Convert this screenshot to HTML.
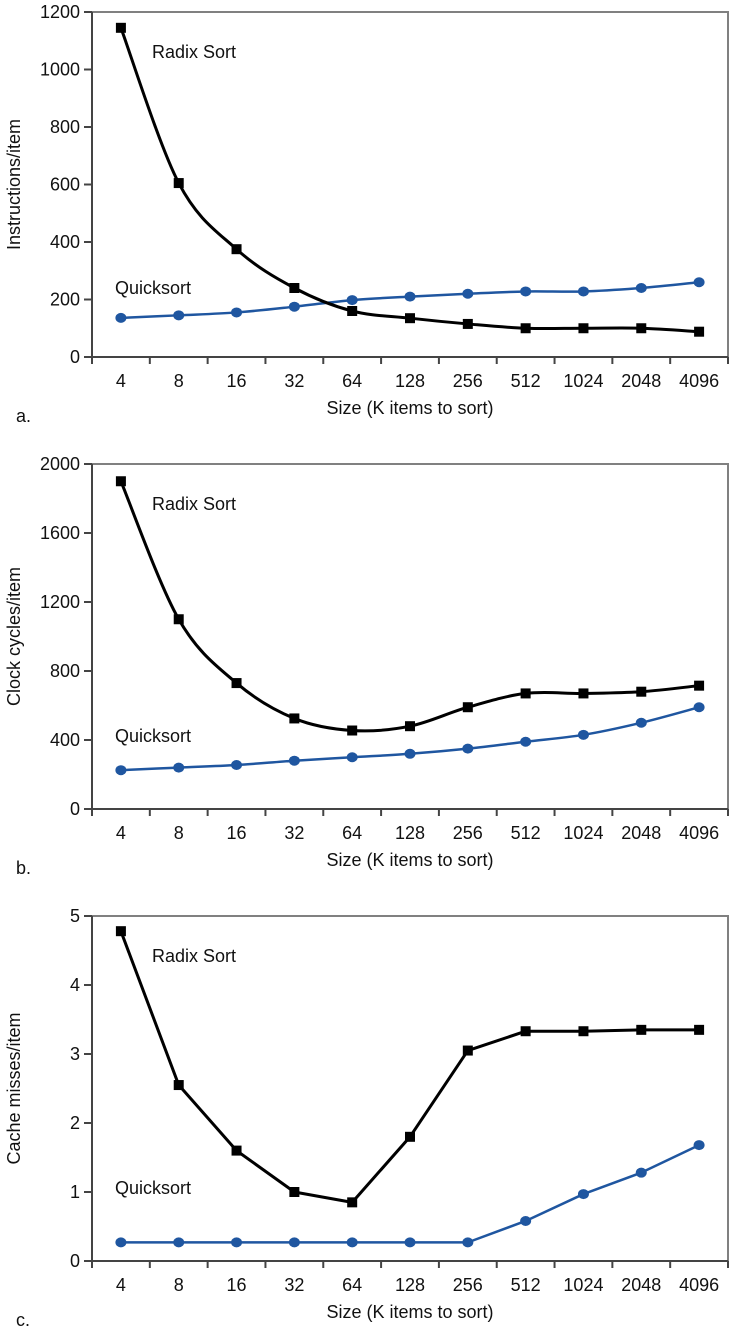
<!DOCTYPE html>
<html><head><meta charset="utf-8"><style>
html,body{margin:0;padding:0;background:#fff;}
svg{display:block;font-family:"Liberation Sans",Arial,sans-serif;}
</style></head><body>
<svg id="svg" width="730" height="1332" viewBox="0 0 730 1332" xmlns="http://www.w3.org/2000/svg"></svg>
<script>
const categories = ["4","8","16","32","64","128","256","512","1024","2048","4096"];
const radixInstr = [1145,605,375,240,160,135,115,100,100,100,88];
const quickInstr = [136,145,155,175,198,210,220,228,228,240,260];
const radixClock = [1900,1100,730,525,455,480,590,670,670,680,715];
const quickClock = [225,240,255,280,300,320,350,390,430,500,590];
const radixMiss = [4.78,2.55,1.6,1.0,0.85,1.8,3.05,3.33,3.33,3.35,3.35];
const quickMiss = [0.27,0.27,0.27,0.27,0.27,0.27,0.27,0.58,0.97,1.28,1.68];
const ticksA = [0,200,400,600,800,1000,1200];
const ticksB = [0,400,800,1200,1600,2000];
const ticksC = [0,1,2,3,4,5];

const NS="http://www.w3.org/2000/svg";
const svg=document.getElementById('svg');
function mk(tag,attrs,parent){const e=document.createElementNS(NS,tag);for(const k in attrs)e.setAttribute(k,attrs[k]);(parent||svg).appendChild(e);return e;}

function smoothPath(pts){
  let d="M"+pts[0][0]+","+pts[0][1];
  for(let i=0;i<pts.length-1;i++){
    const p0=pts[i-1]||pts[i],p1=pts[i],p2=pts[i+1],p3=pts[i+2]||p2;
    const c1x=p1[0]+(p2[0]-p0[0])/6,c1y=p1[1]+(p2[1]-p0[1])/6;
    const c2x=p2[0]-(p3[0]-p1[0])/6,c2y=p2[1]-(p3[1]-p1[1])/6;
    d+=" C"+c1x+","+c1y+" "+c2x+","+c2y+" "+p2[0]+","+p2[1];
  }
  return d;
}

function chart(cfg){
  const g=mk('g',{});
  
  
  const L=92,R=728,T=cfg.top,B=cfg.top+345;
  const band=(R-L)/categories.length;
  const x=i=>L+band*(i+0.5);
  const ymax=cfg.ticks[cfg.ticks.length-1];
  const y=v=>B-(v/ymax)*(B-T);
  const frame=mk('path',{d:`M${L},${T} H${R} V${B}`,fill:'none',stroke:'#808080','stroke-width':2},g);
  
  
  const ax=mk('path',{d:`M${L},${T} V${B} H${R}`,fill:'none',stroke:'#444','stroke-width':2},g);
  
  
  cfg.ticks.forEach(t=>{
    mk('line',{x1:L-8,x2:L,y1:y(t),y2:y(t),stroke:'#444','stroke-width':2},g);
    const tl=mk('text',{x:L-12,y:y(t)+6,'text-anchor':'end','font-size':18,fill:'#111'},g);
    tl.textContent=t;
    
    
  });
  for(let i=0;i<=categories.length;i++){
    mk('line',{x1:L+band*i,x2:L+band*i,y1:B,y2:B+7,stroke:'#444','stroke-width':2},g);
  }
  categories.forEach((c,i)=>{
    const tl=mk('text',{x:x(i),y:B+30,'text-anchor':'middle','font-size':18,fill:'#111'},g);
    tl.textContent=c;
    
    
  });
  const xt=mk('text',{x:410,y:B+57,'text-anchor':'middle','font-size':18,fill:'#111'},g);
  xt.textContent="Size (K items to sort)";
  
  
  const pl=mk('text',{x:16,y:B+65,'font-size':18,fill:'#111'},g);
  pl.textContent=cfg.letter;
  
  
  const yt=mk('text',{x:0,y:0,'text-anchor':'middle','font-size':18,fill:'#111',transform:`translate(20,${(T+B)/2}) rotate(-90)`},g);
  yt.textContent=cfg.ytitle;
  
  
  [[cfg.quick,'#1f56a0',2.5,'circle','quicksort'],[cfg.radix,'#000',3,'square','radix-sort']].forEach(s=>{
    const pts=s[0].map((v,i)=>[x(i),y(v)]);
    const d=cfg.smooth?smoothPath(pts):"M"+pts.map(p=>p.join(',')).join(' L');
    const line=mk('path',{d:d,fill:'none',stroke:s[1],'stroke-width':s[2],'stroke-linejoin':'round'},g);
    
    
    pts.forEach(p=>{
      let m;
      if(s[3]==='circle') m=mk('ellipse',{cx:p[0],cy:p[1],rx:5.5,ry:5,fill:s[1]},g);
      else m=mk('rect',{x:p[0]-5,y:p[1]-5,width:10,height:10,fill:s[1]},g);
      
      
    });
  });
  const rl=mk('text',{x:152,y:T+46,'font-size':18,fill:'#111'},g);
  rl.textContent="Radix Sort";
  
  
  const ql=mk('text',{x:115,y:cfg.qy,'font-size':18,fill:'#111'},g);
  ql.textContent="Quicksort";
  
  
}
chart({name:'instructions-chart',top:12,ticks:ticksA,radix:radixInstr,quick:quickInstr,ytitle:'Instructions/item',letter:'a.',smooth:true,qy:294});
chart({name:'clock-cycles-chart',top:464,ticks:ticksB,radix:radixClock,quick:quickClock,ytitle:'Clock cycles/item',letter:'b.',smooth:true,qy:742});
chart({name:'cache-misses-chart',top:916,ticks:ticksC,radix:radixMiss,quick:quickMiss,ytitle:'Cache misses/item',letter:'c.',smooth:false,qy:1194});
</script>
</body></html>
